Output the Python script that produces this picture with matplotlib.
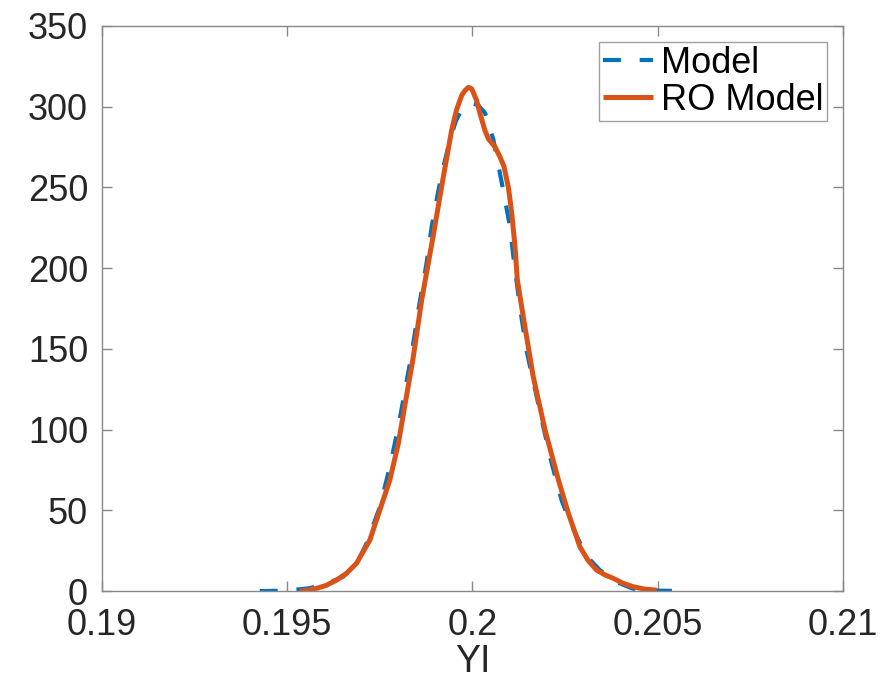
import matplotlib
matplotlib.use('Agg')
import matplotlib.pyplot as plt

plt.rcParams['font.family'] = ['Liberation Sans', 'DejaVu Sans']

# Model (blue dashed)
model_x = [0.19426, 0.19500, 0.19557, 0.19600, 0.19651, 0.19690, 0.19714, 0.19750,
           0.19777, 0.19800, 0.19818, 0.19836, 0.19854, 0.19876, 0.19890, 0.19908,
           0.19925, 0.19940, 0.19955, 0.19970, 0.19985, 0.20000, 0.20015, 0.20034,
           0.20056, 0.20079, 0.20101, 0.20110, 0.20128, 0.20146, 0.20170, 0.20191,
           0.20214, 0.20241, 0.20265, 0.20290, 0.20315, 0.20344, 0.20390, 0.20433,
           0.20500, 0.20574]
model_y = [0.0, 0.3, 1.7, 4.0, 8.9, 18.0, 29.5, 52.0,
           77.0, 101.8, 124.5, 147.0, 174.0, 203.0, 225.7, 248.0,
           266.0, 280.0, 291.0, 298.0, 301.5, 302.0, 301.0, 296.0,
           280.0, 253.0, 226.0, 208.0, 176.0, 149.0, 124.0, 102.0,
           79.0, 56.0, 42.0, 30.0, 20.0, 13.0, 5.5, 1.5,
           0.3, 0.0]

# RO Model (red solid)
ro_x = [0.19534, 0.19555, 0.19579, 0.19605, 0.19633, 0.19660, 0.19687, 0.19723,
        0.19750, 0.19777, 0.19800, 0.19820, 0.19839, 0.19863, 0.19876, 0.19894,
        0.19921, 0.19944, 0.19957, 0.19971, 0.19980, 0.19989, 0.19998, 0.20011,
        0.20020, 0.20034, 0.20043, 0.20061, 0.20074, 0.20085, 0.20097, 0.20106,
        0.20115, 0.20121, 0.20137, 0.20164, 0.20196, 0.20232, 0.20259, 0.20290,
        0.20312, 0.20335, 0.20358, 0.20380, 0.20405, 0.20434, 0.20465, 0.20497]
ro_y = [0.0, 0.6, 1.7, 3.5, 6.8, 11.0, 17.2, 31.6,
        50.2, 68.8, 91.5, 118.3, 143.1, 180.3, 197.0, 220.0,
        256.0, 285.6, 298.0, 307.0, 310.0, 312.0, 311.0, 304.0,
        296.0, 285.0, 280.0, 275.0, 269.0, 263.0, 250.0, 234.0,
        213.0, 193.0, 170.0, 132.8, 99.7, 68.8, 48.1, 27.4,
        19.0, 13.0, 10.0, 7.9, 5.0, 2.7, 1.2, 0.6]

xticks = [0.19, 0.195, 0.2, 0.205, 0.21]
xticklabels = ['0.19', '0.195', '0.2', '0.205', '0.21']
yticks = [0, 50, 100, 150, 200, 250, 300, 350]

fig = plt.figure(figsize=(8.96, 6.81), dpi=100)
ax = fig.add_axes([0.1138, 0.132, 0.827, 0.830])

ax.plot(model_x, model_y, color='#0072BD', lw=3.0, linestyle=(0, (4.3, 4.5)),
        label='Model')
ax.plot(ro_x, ro_y, color='#D95319', lw=3.6, label='RO Model',
        solid_capstyle='butt', solid_joinstyle='round')

ax.set_xlim(0.19, 0.21)
ax.set_ylim(0, 350)
ax.set_xticks(xticks)
ax.set_xticklabels(xticklabels)
ax.set_yticks(yticks)
ax.tick_params(direction='in', length=7, width=1, color='#888888',
               labelsize=26, labelcolor='#262626', top=True, right=True)
ax.tick_params(axis='x', pad=12)
ax.tick_params(axis='y', pad=10)
for s in ax.spines.values():
    s.set_color('#888888')
    s.set_linewidth(1)

ax.set_xlabel('YI', fontsize=27, color='#262626', labelpad=1)

leg = ax.legend(loc='upper right', fontsize=26, frameon=True, fancybox=False,
                edgecolor='#888888', borderpad=0.1, labelspacing=0.05,
                handlelength=1.4, handletextpad=0.2, borderaxespad=0.45)
leg.get_frame().set_linewidth(1)
for t in leg.get_texts():
    t.set_color('black')

fig.savefig('out.png', dpi=100)
